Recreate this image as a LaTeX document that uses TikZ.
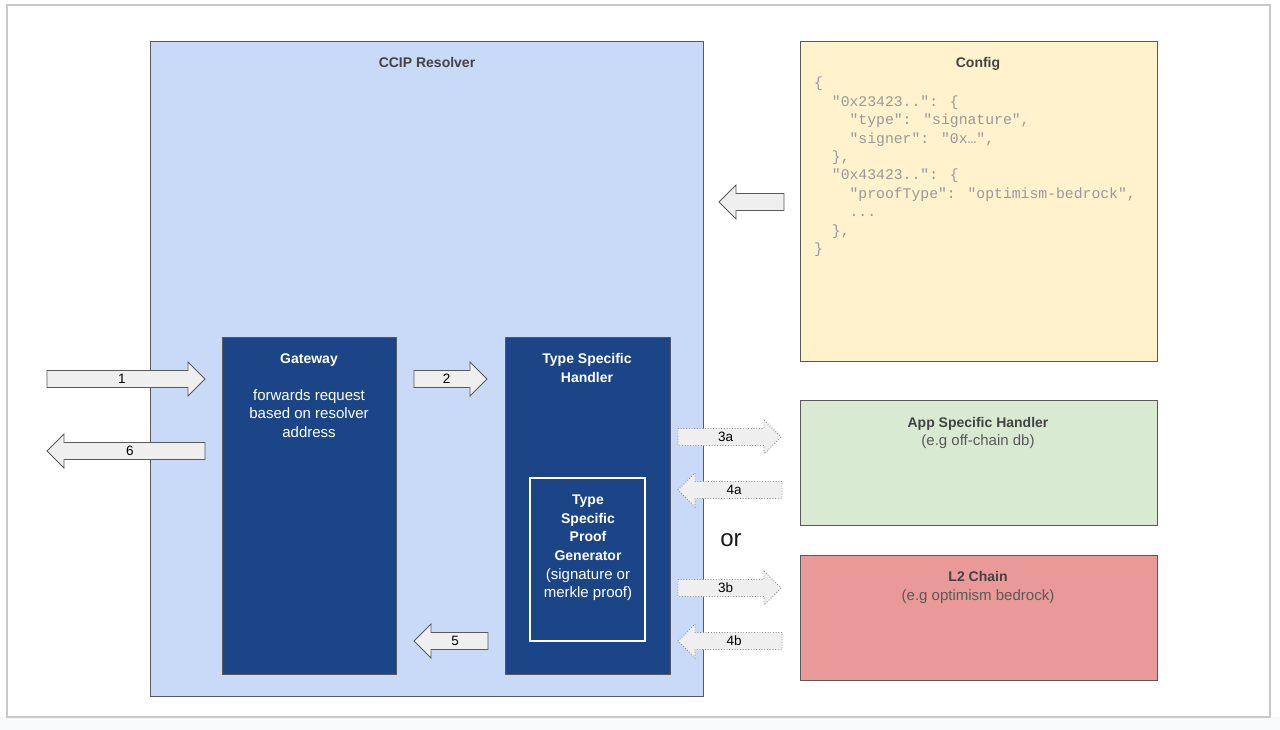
\documentclass[tikz,border=0pt]{standalone}
\usepackage{fontspec}
\setmainfont{Liberation Sans}
\newfontfamily\codefont{Liberation Mono}
\definecolor{ccipfill}{HTML}{C9DAF8}
\definecolor{cfgfill}{HTML}{FFF2CC}
\definecolor{appfill}{HTML}{D9EAD3}
\definecolor{l2fill}{HTML}{EA9999}
\definecolor{navy}{HTML}{1C4587}
\definecolor{bordergray}{HTML}{595959}
\definecolor{titlegray}{HTML}{434343}
\definecolor{subgray}{HTML}{595959}
\definecolor{codegray}{HTML}{999999}
\definecolor{arrowfill}{HTML}{EFEFEF}
\definecolor{framegray}{HTML}{C8C8C8}
\definecolor{stripgray}{HTML}{F8F9FA}
\definecolor{dotgray}{HTML}{8F8F8F}
\newcommand{\rarr}[6]{% name, tail x, tip x, y, label, style
  \draw[#6] (#2,{#4-8.5}) -- ({#3-17},{#4-8.5}) -- ({#3-17},{#4-17}) -- (#3,#4)
    -- ({#3-17},{#4+17}) -- ({#3-17},{#4+8.5}) -- (#2,{#4+8.5}) -- cycle;
  \node[arrlabel] (#1) at ({(#2+#3)/2-4},#4) {#5};}
\newcommand{\larr}[6]{% name, tail x, tip x, y, label, style
  \draw[#6] (#2,{#4-8.5}) -- ({#3+17},{#4-8.5}) -- ({#3+17},{#4-17}) -- (#3,#4)
    -- ({#3+17},{#4+17}) -- ({#3+17},{#4+8.5}) -- (#2,{#4+8.5}) -- cycle;
  \node[arrlabel] (#1) at ({(#2+#3)/2+4},#4) {#5};}
\begin{document}
\begin{tikzpicture}[x=1pt,y=-1pt,
  box/.style={draw=bordergray, line width=1pt, inner sep=0pt, outer sep=0pt, anchor=north west},
  ttl/.style={font=\fontsize{14}{17}\selectfont\bfseries, text=titlegray, anchor=base, inner sep=0pt},
  sub/.style={font=\fontsize{15}{18}\selectfont, text=subgray, anchor=base, inner sep=0pt},
  wttl/.style={font=\fontsize{14}{17}\selectfont\bfseries, text=white, anchor=base, inner sep=0pt},
  wsub/.style={font=\fontsize{15}{18}\selectfont, text=white, anchor=base, inner sep=0pt},
  code/.style={font=\fontsize{14.75}{17}\codefont, text=codegray, anchor=base west, inner sep=0pt},
  arrlabel/.style={font=\fontsize{13.5}{15}\selectfont, text=black, inner sep=0pt},
  solidarrow/.style={fill=arrowfill, draw=bordergray, line width=0.9pt, line join=miter},
  dotarrow/.style={fill=arrowfill, draw=dotgray, line width=0.9pt, dash pattern=on 0.9pt off 1.8pt},
]
\useasboundingbox (0,0) rectangle (1280,730);
\fill[white] (0,0) rectangle (1280,730);
\fill[stripgray] (0,717) rectangle (1280,730);
\node[draw=framegray, line width=1.5pt, fill=white, inner sep=0pt, outer sep=0pt, anchor=north west,
  minimum width=1263pt, minimum height=712pt] (frame) at (7,5) {};

% main boxes
\node[box, fill=ccipfill, minimum width=553pt, minimum height=654pt] (ccip) at (150,42) {};
\node[box, fill=cfgfill, minimum width=357pt, minimum height=319pt] (config) at (800,42) {};
\node[box, fill=appfill, minimum width=357pt, minimum height=125pt] (app) at (800,400) {};
\node[box, fill=l2fill, minimum width=357pt, minimum height=125pt] (l2) at (800,555) {};
\node[box, fill=navy, minimum width=174pt, minimum height=337pt] (gw) at (222,337) {};
\node[box, fill=navy, minimum width=165pt, minimum height=337pt] (tsh) at (505,337) {};
\node[box, draw=white, line width=1.3pt, minimum width=115pt, minimum height=163pt] (gen) at (530,478) {};

% titles
\node[ttl] (ccipT) at (427,68) {CCIP Resolver};
\node[ttl] (cfgT) at (978,68) {Config};
\node[ttl] (appT) at (978,427) {App Specific Handler};
\node[sub] (appS) at (978,445) {(e.g off-chain db)};
\node[ttl] (l2T) at (978,581) {L2 Chain};
\node[sub] (l2S) at (978,600) {(e.g optimism bedrock)};

% gateway text
\node[wttl] (gw1) at (309,363) {Gateway};
\node[wsub] (gw2) at (309,400) {forwards request};
\node[wsub] (gw3) at (309,418) {based on resolver};
\node[wsub] (gw4) at (309,437) {address};

% type specific handler text
\node[wttl] (tsh1) at (587,363) {Type Specific};
\node[wttl] (tsh2) at (587,382) {Handler};

% proof generator text
\node[wttl] (gen1) at (588,504) {Type};
\node[wttl] (gen2) at (588,523) {Specific};
\node[wttl] (gen3) at (588,541) {Proof};
\node[wttl] (gen4) at (588,560) {Generator};
\node[wsub] (gen5) at (588,579) {(signature or};
\node[wsub] (gen6) at (588,597) {merkle proof)};

% config code
\node[code] (c0) at (814,88) {\{};
\node[code] (c1) at (814,106.4) {\phantom{xx}"0x23423..": \{};
\node[code] (c2) at (814,124.8) {\phantom{xxxx}"type": "signature",};
\node[code] (c3) at (814,143.2) {\phantom{xxxx}"signer": "0x…",};
\node[code] (c4) at (814,161.6) {\phantom{xx}\},};
\node[code] (c5) at (814,180.0) {\phantom{xx}"0x43423..": \{};
\node[code] (c6) at (814,198.4) {\phantom{xxxx}"proofType": "optimism-bedrock",};
\node[code] (c7) at (814,216.8) {\phantom{xxxx}...};
\node[code] (c8) at (814,235.2) {\phantom{xx}\},};
\node[code] (c9) at (814,253.6) {\}};

% block arrows
\rarr{a1}{47}{205}{379}{1}{solidarrow}
\larr{a6}{205}{47}{451}{6}{solidarrow}
\rarr{a2}{414}{487}{379}{2}{solidarrow}
\larr{a5}{488}{414}{641}{5}{solidarrow}
\larr{acfg}{784}{719}{202}{}{solidarrow}
\rarr{a3a}{678}{781}{437}{3a}{dotarrow}
\larr{a4a}{782}{678}{490}{4a}{dotarrow}
\rarr{a3b}{678}{781}{588}{3b}{dotarrow}
\larr{a4b}{782}{678}{641}{4b}{dotarrow}

\node[font=\fontsize{24}{28}\selectfont, text=black!90, inner sep=0pt] (or) at (731,540) {or};
\end{tikzpicture}
\end{document}
